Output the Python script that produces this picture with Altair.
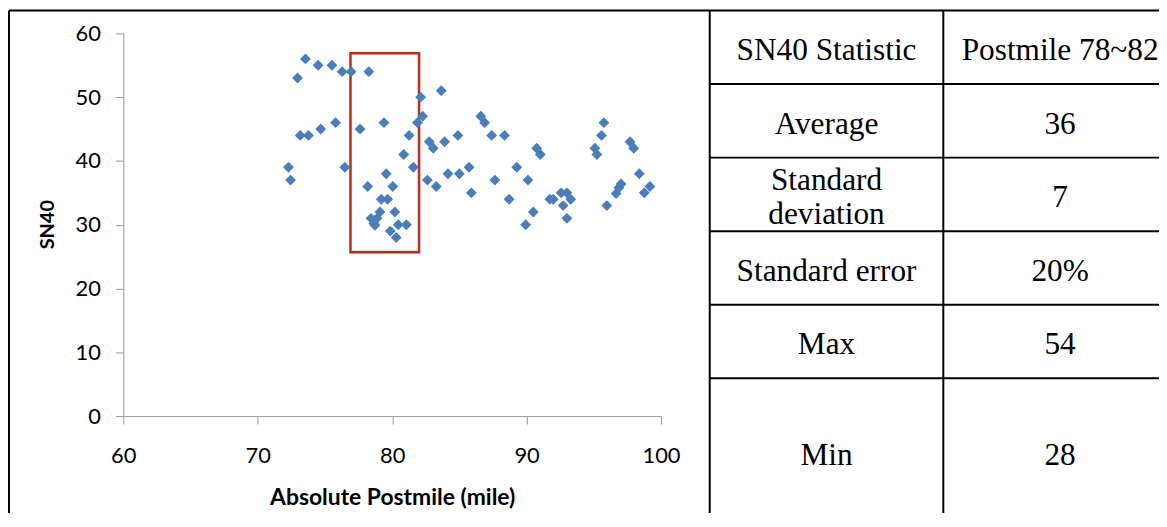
import altair as alt
import pandas as pd

# ---- scatter data ----
postmile = [72.29, 72.44, 72.96, 73.16, 73.55, 73.77, 74.49, 74.69, 75.52, 75.79,
            76.28, 76.48, 76.95, 77.61, 78.26, 78.18, 78.43, 78.87, 78.63, 78.72,
            79.09, 79.19, 79.39, 79.56, 79.66, 79.86, 80.05, 80.20, 80.30, 80.45,
            80.86, 81.06, 81.26, 81.58, 81.88, 82.12, 82.27, 82.62, 82.76, 83.06,
            83.28, 83.65, 83.90, 84.15, 84.89, 85.00, 85.72, 85.89, 86.59, 86.88,
            87.40, 87.64, 88.36, 88.70, 89.27, 89.93, 90.10, 90.50, 90.75, 91.02,
            91.73, 91.98, 92.57, 93.00, 92.72, 93.00, 93.28, 95.08, 95.23, 95.57,
            95.75, 95.97, 96.66, 96.86, 97.03, 97.69, 97.97, 98.38, 98.75, 99.17]
sn40 = [39, 37, 53, 44, 56, 44, 55, 45, 55, 46,
        54, 39, 54, 45, 54, 36, 31, 31, 30.2, 29.9,
        32, 34, 46, 38, 34, 29, 36, 32, 28, 30,
        41, 30, 44, 39, 46, 50, 47, 37, 43, 42,
        36, 51, 43, 38, 44, 38, 39, 35, 47, 46,
        44, 37, 44, 34, 39, 30, 37, 32, 42, 41,
        34, 34, 35, 35, 33, 31, 34, 42, 41, 44,
        46, 33, 34.9, 35.8, 36.4, 43, 42, 38, 35, 36]

# highlighted window (red box)
box_postmile = [76.9, 82.0]
box_sn40 = [25.7, 56.9]

x_ticks = [60, 70, 80, 90, 100]
y_ticks = [0, 10, 20, 30, 40, 50, 60]

# ---- table data ----
header = ["SN40 Statistic", "Postmile 78~82"]
stat_names = ["Average", "Standard\ndeviation", "Standard error", "Max", "Min"]
stat_values = ["36", "7", "20%", "54", "28"]
row_heights = [1, 1, 1, 1, 1, 2]   # header + 5 rows (last row is double height)
chart_cell_cols = 3                # the chart occupies a cell 3 column-units wide
line_gap = 0.46                    # spacing of wrapped text lines, in row units

# ---------------- build frames ----------------
pts = pd.DataFrame({"postmile": postmile, "sn40": sn40})
box = pd.DataFrame({"postmile": [box_postmile[0]], "postmile2": [box_postmile[1]],
                    "sn40": [box_sn40[0]], "sn402": [box_sn40[1]]})

bounds = [0]
for h in row_heights:
    bounds.append(bounds[-1] + h)
n_cols = len(header)

lines = []
for i, b in enumerate(bounds[:-1]):
    lines.append({"x": -chart_cell_cols if i == 0 else 0, "x2": n_cols, "y": b, "y2": b})
for c in [-chart_cell_cols, 0, 1]:
    lines.append({"x": c, "x2": c, "y": 0, "y2": bounds[-1]})
lines = pd.DataFrame(lines)

cells = []
rows_text = [header] + [[n, v] for n, v in zip(stat_names, stat_values)]
for r, row in enumerate(rows_text):
    yc = (bounds[r] + bounds[r + 1]) / 2
    for c, t in enumerate(row):
        parts = t.split("\n")
        k = len(parts)
        for j, p in enumerate(parts):
            cells.append({"x": c + 0.5, "y": yc + (j - (k - 1) / 2) * line_gap, "t": p})
cells = pd.DataFrame(cells)

# ---------------- scatter ----------------
xs = alt.Scale(domain=[60, 100], nice=False, zero=False)
ys = alt.Scale(domain=[0, 60], nice=False, zero=True)
grey = "#9a9a9a"
x_axis = alt.Axis(values=x_ticks, title="Absolute Postmile (mile)", grid=False,
                  domainColor=grey, tickColor=grey, tickSize=8, labelFont="Lato",
                  labelFontSize=22, labelColor="black", labelPadding=32,
                  labelBaseline="middle", labelFlush=False, labelOverlap=False,
                  titleFont="Lato", titleFontSize=23, titleFontWeight="bold",
                  titleColor="black", titleBaseline="middle", titleY=82)
y_axis = alt.Axis(values=y_ticks, title="SN40", grid=False,
                  domainColor=grey, tickColor=grey, tickSize=8, labelFont="Lato",
                  labelFontSize=22, labelColor="black", labelPadding=15,
                  labelBaseline="middle", labelFlush=False, labelOverlap=False,
                  titleFont="Lato", titleFontSize=20, titleFontWeight="bold",
                  titleColor="black", titleAngle=270, titleBaseline="middle",
                  titleAlign="center", titleX=-76, titleY=192)

box_layer = alt.Chart(box).mark_rect(fillOpacity=0, stroke="#C0281C", strokeWidth=2.5).encode(
    x=alt.X("postmile:Q", scale=xs, axis=x_axis), x2="postmile2:Q",
    y=alt.Y("sn40:Q", scale=ys, axis=y_axis), y2="sn402:Q")
pts_layer = alt.Chart(pts).mark_point(shape="diamond", filled=True, size=120,
                                      color="#4A7EBB", opacity=1).encode(
    x=alt.X("postmile:Q", scale=xs, axis=x_axis),
    y=alt.Y("sn40:Q", scale=ys, axis=y_axis))
scatter = alt.layer(box_layer, pts_layer)

# ---------------- table ----------------
tx = alt.Scale(domain=[-chart_cell_cols, n_cols], range=[-115, 1060], nice=False, zero=False)
ty = alt.Scale(domain=[0, bounds[-1]], range=[-23, 495], nice=False, zero=False)
rules = alt.Chart(lines).mark_rule(color="black", strokeWidth=2).encode(
    x=alt.X("x:Q", scale=tx, axis=None), x2="x2:Q",
    y=alt.Y("y:Q", scale=ty, axis=None), y2="y2:Q")
texts = alt.Chart(cells).mark_text(font="Liberation Serif", fontSize=31.5, color="black",
                                    baseline="middle", align="center", dy=4).encode(
    x=alt.X("x:Q", scale=tx, axis=None),
    y=alt.Y("y:Q", scale=ty, axis=None),
    text="t:N")
table = alt.layer(rules, texts)

chart = alt.layer(scatter, table).resolve_scale(x="independent", y="independent").properties(
    width=541, height=385,
    autosize=alt.AutoSizeParams(type="none"),
    padding={"left": 116, "top": 24, "right": 501, "bottom": 96},
).configure_view(stroke=None)

chart.save("out.html", embed_options={"renderer": "svg", "actions": False})
